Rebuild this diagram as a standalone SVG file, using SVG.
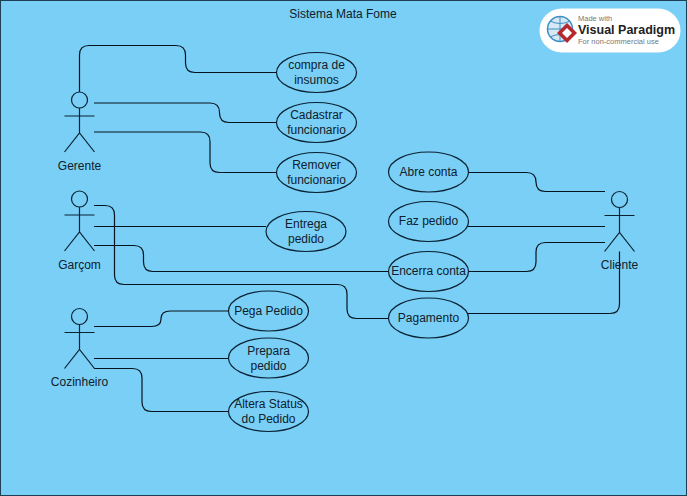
<svg xmlns="http://www.w3.org/2000/svg" width="687" height="496" viewBox="0 0 687 496">
<style>
text{font-family:"Liberation Sans",Arial,sans-serif;font-size:12px;fill:#10202c;text-anchor:middle}
.e{fill:#79cff5;stroke:#0a2233;stroke-width:1.2}
.c{fill:none;stroke:#06141f;stroke-width:1.2}
.a{fill:none;stroke:#0a2233;stroke-width:1.2}
</style>
<defs>
<g id="actor"><circle cx="0" cy="-16" r="8" class="a"/><path class="a" d="M0-8V17M-15 0H15M-15 36L0 17L15 36"/></g>
</defs>
<rect x="0.5" y="0.5" width="686" height="495" fill="#79cff5" stroke="#1c3f55"/>
<text id="title" x="343" y="18">Sistema Mata Fome</text>
<g id="connectors" class="c">
<path d="M79.5 92V55Q79.5 45.5 89 45.5H176Q185.5 45.5 185.5 55V63Q185.5 72.5 195 72.5H276"/>
<path d="M94 103H210Q219.5 103 219.5 112.5V113Q219.5 122.5 229 122.5H276"/>
<path d="M94 132H200.500Q210 132 210 141.500V163Q210 172.500 219.500 172.500H276"/>
<path d="M94 205.500H105Q114.500 205.500 114.500 215V275Q114.500 284.500 124 284.500H337.500Q347 284.500 347 294V309Q347 318.500 356.500 318.500H388"/>
<path d="M94 226.500H266"/>
<path d="M94 245.500H134Q143.500 245.500 143.500 255V262Q143.500 271.500 153 271.500H388"/>
<path d="M94 326.500H151.500Q161 326.500 161 319V318.500Q161 311 170.500 311H228"/>
<path d="M94 358.500H228"/>
<path d="M94 368.500H132.500Q142 368.500 142 378V402Q142 411.500 151.500 411.500H228"/>
<path d="M468 172.500H526.500Q536 172.500 536 182Q536 191.500 545.500 191.500H605"/>
<path d="M468 226.500H605"/>
<path d="M468 271.500H526.500Q536 271.500 536 262V252Q536 242.500 545.500 242.500H605"/>
<path d="M468 313.500H610Q619.500 313.500 619.500 304V251.500"/>
</g>
<g id="actor-gerente"><use href="#actor" x="79.500" y="116"/><text x="79.500" y="170">Gerente</text></g>
<g id="actor-garcom"><use href="#actor" x="79.500" y="215"/><text x="79.500" y="269">Garçom</text></g>
<g id="actor-cozinheiro"><use href="#actor" x="79.500" y="332.500"/><text x="79.500" y="386">Cozinheiro</text></g>
<g id="actor-cliente"><use href="#actor" x="619.500" y="215.500"/><text x="619.500" y="269">Cliente</text></g>
<g id="uc-compra"><ellipse class="e" cx="316.500" cy="72.500" rx="40" ry="20"/><text x="316.500" y="69">compra de</text><text x="316.500" y="84">insumos</text></g>
<g id="uc-cadastrar"><ellipse class="e" cx="316.500" cy="122.500" rx="40" ry="20"/><text x="316.500" y="119">Cadastrar</text><text x="316.500" y="134">funcionario</text></g>
<g id="uc-remover"><ellipse class="e" cx="316.500" cy="172.500" rx="40" ry="20"/><text x="316.500" y="169">Remover</text><text x="316.500" y="184">funcionario</text></g>
<g id="uc-entrega"><ellipse class="e" cx="306" cy="231.500" rx="40" ry="20"/><text x="306" y="228">Entrega</text><text x="306" y="243">pedido</text></g>
<g id="uc-pega"><ellipse class="e" cx="268.500" cy="311" rx="40" ry="20"/><text x="268.500" y="315">Pega Pedido</text></g>
<g id="uc-prepara"><ellipse class="e" cx="268.500" cy="358" rx="40" ry="20"/><text x="268.500" y="355">Prepara</text><text x="268.500" y="370">pedido</text></g>
<g id="uc-altera"><ellipse class="e" cx="268.500" cy="411.500" rx="40" ry="20"/><text x="268.500" y="408">Altera Status</text><text x="268.500" y="423">do Pedido</text></g>
<g id="uc-abre"><ellipse class="e" cx="428.500" cy="172" rx="40" ry="20"/><text x="428.500" y="176">Abre conta</text></g>
<g id="uc-faz"><ellipse class="e" cx="428.500" cy="221.500" rx="40" ry="20"/><text x="428.500" y="225">Faz pedido</text></g>
<g id="uc-encerra"><ellipse class="e" cx="428.500" cy="271.500" rx="40" ry="20"/><text x="428.500" y="275">Encerra conta</text></g>
<g id="uc-pagamento"><ellipse class="e" cx="428.500" cy="318" rx="40" ry="20"/><text x="428.500" y="322">Pagamento</text></g>
<g id="badge">
<rect x="539.500" y="8.500" width="141" height="44" rx="22" fill="#fff"/>
<circle cx="560" cy="29" r="12.500" fill="#d5e8f4" stroke="#3c8fc4" stroke-width="1.500"/>
<path d="M547.500 29H572.500M560 16.500V41.500M550 21Q560 26 570 21M550 37Q560 32 570 37" fill="none" stroke="#3c8fc4"/>
<path d="M567 23L577 33L567 43L557 33Z" fill="#b5282e"/>
<path d="M567 28L572 33L567 38L562 33Z" fill="#fff"/>
<text x="578" y="21" style="font-size:7.500px;fill:#777;text-anchor:start">Made with</text>
<text x="578" y="34" style="font-size:12.500px;font-weight:bold;fill:#222;text-anchor:start">Visual Paradigm</text>
<text x="578" y="44" style="font-size:7.500px;fill:#777;text-anchor:start">For non-commercial use</text>
</g>
</svg>
